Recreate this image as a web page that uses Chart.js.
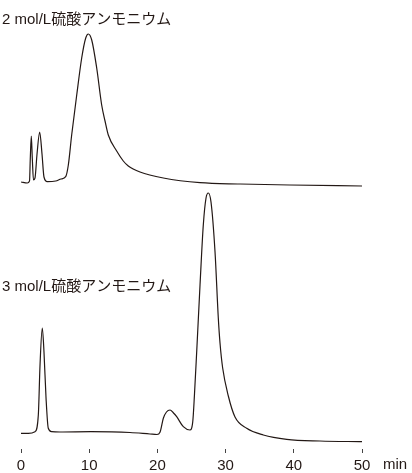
<!DOCTYPE html>
<html>
<head>
<meta charset="utf-8">
<script src="https://cdn.jsdelivr.net/npm/chart.js@4/dist/chart.umd.min.js"></script>
<style>
  html, body { margin: 0; padding: 0; background: #ffffff; }
  canvas { display: block; }
</style>
</head>
<body>
<canvas id="c" width="412" height="473"></canvas>
<script>
// Retention time (min) and detector signal (arbitrary units)
const times2M = [0, 0.92, 1.25, 1.36, 1.51, 1.66, 1.83, 2.05, 2.35, 2.74, 3.08, 3.37, 3.86, 5.09, 5.87, 6.55, 6.94, 7.43, 8.17, 8.90, 9.49, 9.87, 10.37, 11.10, 11.83, 12.32, 12.80, 14.03, 15.0, 15.73, 17.45, 20.87, 26.25, 32.12, 39.44, 50];
const signal2M = [2, 1, 3, 25, 48, 25, 4, 6, 30, 52, 30, 7, 2.3, 3, 5, 7.3, 19, 49, 89, 126, 146, 150, 144, 116, 79, 63, 49, 33, 23, 18, 12, 6, 1.3, 0, -1, -2];

const times3M = [0, 1.07, 2.05, 2.54, 2.79, 3.12, 3.37, 3.67, 4.00, 4.50, 5.72, 10.26, 15.98, 18.91, 19.94, 20.38, 20.87, 21.33, 21.85, 22.36, 22.83, 23.80, 24.78, 25.18, 25.44, 25.76, 26.25, 26.73, 27.13, 27.46, 27.86, 28.45, 28.93, 29.18, 29.57, 30.40, 31.38, 33.09, 35.53, 38.96, 43.84, 50];
const signal3M = [0.7, 0.7, 2.3, 19, 69, 106, 82, 36, 5.7, 2.3, 2, 2.3, 1.5, 0, -0.5, 1.7, 15.7, 22, 24, 21, 17.3, 7.3, 4, 12, 40, 82, 149, 209, 236, 241, 232, 182, 116, 91, 66, 38, 17, 5.7, -1, -5.3, -7, -7.7];

const label2M = '2 mol/L硫酸アンモニウム';
const label3M = '3 mol/L硫酸アンモニウム';
const xTicks = [0, 10, 20, 30, 40, 50];
const xUnit = 'min';

const ink = '#231815';
const textFont = "15px 'Liberation Sans', 'Noto Sans CJK JP', sans-serif";

const toPoints = (xs, ys) => xs.map((x, i) => ({ x: x, y: ys[i] }));

const labelsPlugin = {
  id: 'labels',
  afterDraw(chart) {
    const ctx = chart.ctx;
    ctx.save();
    ctx.fillStyle = ink;
    ctx.font = textFont;
    ctx.textBaseline = 'middle';
    ctx.textAlign = 'left';
    ctx.fillText(label2M, 2, 20);
    ctx.fillText(label3M, 2, 287);
    ctx.fillText(xUnit, 383, 465);
    ctx.restore();
  }
};

new Chart(document.getElementById('c'), {
  type: 'line',
  data: {
    datasets: [
      {
        label: label2M,
        data: toPoints(times2M, signal2M),
        yAxisID: 'yTop',
        borderColor: ink,
        borderWidth: 1.2,
        pointRadius: 0,
        fill: false,
        cubicInterpolationMode: 'monotone'
      },
      {
        label: label3M,
        data: toPoints(times3M, signal3M),
        yAxisID: 'yBottom',
        borderColor: ink,
        borderWidth: 1.2,
        pointRadius: 0,
        fill: false,
        cubicInterpolationMode: 'monotone'
      }
    ]
  },
  options: {
    responsive: false,
    animation: false,
    devicePixelRatio: 1,
    layout: { padding: { top: 20, left: 21, right: 50, bottom: -5 } },
    plugins: { legend: { display: false }, tooltip: { enabled: false } },
    scales: {
      x: {
        type: 'linear',
        min: 0,
        max: 50,
        afterBuildTicks(axis) { axis.ticks = xTicks.map(v => ({ value: v })); },
        border: { display: false },
        grid: { display: true, drawOnChartArea: false, drawTicks: true, tickLength: 4, color: '#444', lineWidth: 1 },
        ticks: { color: ink, font: { family: "'Liberation Sans', sans-serif", size: 15, lineHeight: 1.0 }, padding: 5, maxRotation: 0 }
      },
      yTop: { type: 'linear', display: false, min: -265, max: 164 },
      yBottom: { type: 'linear', display: false, min: -15, max: 414 }
    }
  },
  plugins: [labelsPlugin]
});
</script>
</body>
</html>
